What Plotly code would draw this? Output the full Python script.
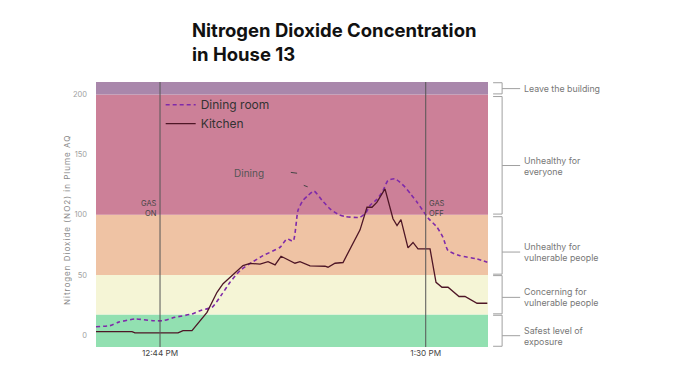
import plotly.graph_objects as go

DAY = "2023-01-01 "

# Kitchen series (time, NO2)
kitchen_time = ["12:32:55", "12:39:09", "12:39:40", "12:47:07", "12:47:59", "12:49:32",
                "12:52:08", "12:53:52", "12:54:55", "12:56:28", "12:58:22", "12:59:35",
                "13:01:19", "13:02:42", "13:03:55", "13:04:57", "13:05:59", "13:07:22",
                "13:08:14", "13:09:58", "13:12:34", "13:13:05", "13:14:18", "13:15:41",
                "13:18:38", "13:19:50", "13:20:42", "13:21:34", "13:22:57", "13:24:20",
                "13:25:02", "13:25:43", "13:26:56", "13:27:48", "13:28:40", "13:30:45",
                "13:31:47", "13:32:49", "13:33:52", "13:35:46", "13:36:48", "13:38:53",
                "13:40:40"]
kitchen_no2 = [2.8, 2.8, 1.7, 1.7, 3.6, 3.6,
               18.8, 35.5, 42.7, 49.4, 57.7, 59.5,
               59.0, 61.0, 58.3, 65.5, 63.0, 59.7,
               61.0, 57.5, 57.2, 56.4, 59.7, 60.3,
               87.5, 106.3, 106.3, 110.5, 121.6, 96.7,
               91.0, 96.0, 72.5, 77.0, 71.6, 71.6,
               43.8, 39.7, 39.7, 32.0, 32.0, 26.4,
               26.4]

# Dining room series (time, NO2)
dining_time = ["12:32:55", "12:35:20", "12:36:44", "12:39:40", "12:42:47", "12:44:31",
               "12:46:36", "12:49:32", "12:51:16", "12:53:00", "12:54:44", "12:56:07",
               "12:57:51", "12:59:56", "13:01:50", "13:04:47", "13:05:59", "13:07:02",
               "13:07:53", "13:08:45", "13:09:37", "13:10:40", "13:12:03", "13:13:26",
               "13:14:49", "13:16:02", "13:18:38", "13:19:40", "13:20:21", "13:21:34",
               "13:22:36", "13:23:28", "13:24:41", "13:25:33", "13:26:25", "13:27:27",
               "13:28:30", "13:30:24", "13:31:57", "13:32:59", "13:33:52", "13:35:56",
               "13:38:53", "13:40:40"]
dining_no2 = [6.9, 7.8, 10.5, 13.3, 11.9, 11.9,
              14.7, 17.5, 20.8, 23.0, 34.0, 43.8,
              53.6, 60.5, 66.0, 73.0, 80.0, 78.0,
              103.6, 112.0, 116.0, 119.7, 112.0, 105.0,
              100.5, 98.6, 98.0, 102.0, 107.8, 113.0,
              120.0, 128.6, 130.0, 127.0, 123.0, 117.0,
              110.5, 97.4, 89.7, 81.3, 70.3, 66.0,
              63.3, 60.5]

# Exposure bands
band_low = [-10, 17, 50, 100, 200]
band_high = [17, 50, 100, 200, 210.5]
band_colors = ["#92e0b1", "#f5f5d6", "#efc3a4", "#cc8098", "#a987ab"]
bracket_low = [-10, 17, 50, 100, 200]
bracket_high = [17, 50, 99, 199, 210.5]
pointer_level = [-0.6, 31.3, 69, 141, 205]
band_labels = ["Safest level of<br>exposure", "Concerning for<br>vulnerable people",
               "Unhealthy for<br>vulnerable people", "Unhealthy for<br>everyone",
               "Leave the building"]

title_text = "Nitrogen Dioxide Concentration<br>in House 13"
gas_on = "12:44:00"
gas_off = "13:30:00"
x_range = ["12:32:55", "13:40:47"]
y_ticks = [0, 50, 100, 150, 200]
x_ticks = ["12:44:00", "13:30:00"]

fig = go.Figure()

fig.add_trace(go.Scatter(
    x=[DAY + t for t in dining_time], y=dining_no2, name="Dining room",
    mode="lines", line=dict(color="#7f2aa9", width=1.6, dash="4px,3px", shape="spline", smoothing=0.6),
))
fig.add_trace(go.Scatter(
    x=[DAY + t for t in kitchen_time], y=kitchen_no2, name="Kitchen",
    mode="lines", line=dict(color="#4e1626", width=1.3),
))

shapes = []
for lo, hi, c in zip(band_low, band_high, band_colors):
    shapes.append(dict(type="rect", xref="paper", yref="y", x0=0, x1=1, y0=lo, y1=hi,
                       fillcolor=c, line=dict(width=0), layer="below"))

for t in (gas_on, gas_off):
    shapes.append(dict(type="line", xref="x", yref="paper", x0=DAY + t, x1=DAY + t,
                       y0=0, y1=1, line=dict(color="#555555", width=1)))

# right-side brackets
p1, p2, p3 = 1.013, 1.036, 1.082
bc = "#a0a0a0"
annotations = []
for lo, hi, mid, lab in zip(bracket_low, bracket_high, pointer_level, band_labels):
    a, b = lo + 0.6, hi - 0.6
    shapes.append(dict(type="line", xref="paper", yref="y", x0=p2, x1=p2, y0=a, y1=b,
                       line=dict(color=bc, width=1)))
    shapes.append(dict(type="line", xref="paper", yref="y", x0=p1, x1=p2, y0=a, y1=a,
                       line=dict(color=bc, width=1)))
    shapes.append(dict(type="line", xref="paper", yref="y", x0=p1, x1=p2, y0=b, y1=b,
                       line=dict(color=bc, width=1)))
    shapes.append(dict(type="line", xref="paper", yref="y", x0=p2, x1=p3, y0=mid, y1=mid,
                       line=dict(color=bc, width=1)))
    annotations.append(dict(xref="paper", yref="y", x=p3 + 0.005, y=mid,
                            text=lab, showarrow=False, xanchor="left", yanchor="middle",
                            align="left", font=dict(family="Inter", size=8.8, color="#777777")))

# stray small marks near the "Dining" label
shapes.append(dict(type="line", xref="paper", yref="y", x0=0.497, x1=0.513, y0=135.3, y1=134.6,
                   line=dict(color="#444444", width=1)))
shapes.append(dict(type="line", xref="paper", yref="y", x0=0.530, x1=0.540, y0=124.5, y1=123.3,
                   line=dict(color="#444444", width=1)))

annotations += [
    dict(xref="paper", yref="paper", x=0.240, y=1.152, text="<b>" + title_text + "</b>",
         showarrow=False, xanchor="left", yanchor="middle", align="left",
         font=dict(family="Inter", size=18.5, color="#111111")),
    dict(xref="x", yref="y", x=DAY + gas_on, y=105, text="GAS<br>ON", showarrow=False,
         xanchor="right", yanchor="middle", align="right", xshift=-1,
         font=dict(family="Inter", size=7.5, color="#444444")),
    dict(xref="x", yref="y", x=DAY + gas_off, y=105, text="GAS<br>OFF", showarrow=False,
         xanchor="left", yanchor="middle", align="left", xshift=1,
         font=dict(family="Inter", size=7.5, color="#444444")),
    dict(xref="paper", yref="y", x=0.39, y=135, text="Dining", showarrow=False,
         xanchor="center", yanchor="middle",
         font=dict(family="Inter", size=10, color="#555555")),
    dict(xref="paper", yref="paper", x=-0.074, y=0.479,
         text='<span style="letter-spacing:1.0px">Nitrogen Dioxide (NO2) in Plume AQ</span>',
         showarrow=False, textangle=-90, xanchor="center", yanchor="middle",
         font=dict(family="Inter", size=8, color="#888888")),
]

fig.update_layout(
    width=680, height=383,
    margin=dict(l=88, r=200, t=74, b=44),
    paper_bgcolor="white", plot_bgcolor="white",
    font=dict(family="Inter"),
    shapes=shapes, annotations=annotations,
    showlegend=True,
    legend=dict(x=0.165, y=0.969, xanchor="left", yanchor="top",
                bgcolor="rgba(0,0,0,0)", font=dict(family="Inter", size=12, color="#333333"),
                tracegroupgap=0, itemwidth=30),
    xaxis=dict(type="date", range=[DAY + x_range[0], DAY + x_range[1]],
               tickvals=[DAY + t for t in x_ticks], tickformat="%-I:%M %p",
               showgrid=False, zeroline=False, showline=False, ticks="",
               tickfont=dict(family="Inter", size=8.2, color="#444444")),
    yaxis=dict(range=[-10, 210.5], tickvals=y_ticks, showgrid=False, zeroline=False,
               showline=False, ticks="", ticklabelstandoff=8,
               tickfont=dict(family="Inter", size=7.5, color="#a0a0a0")),
)

fig.write_html("out.html")
